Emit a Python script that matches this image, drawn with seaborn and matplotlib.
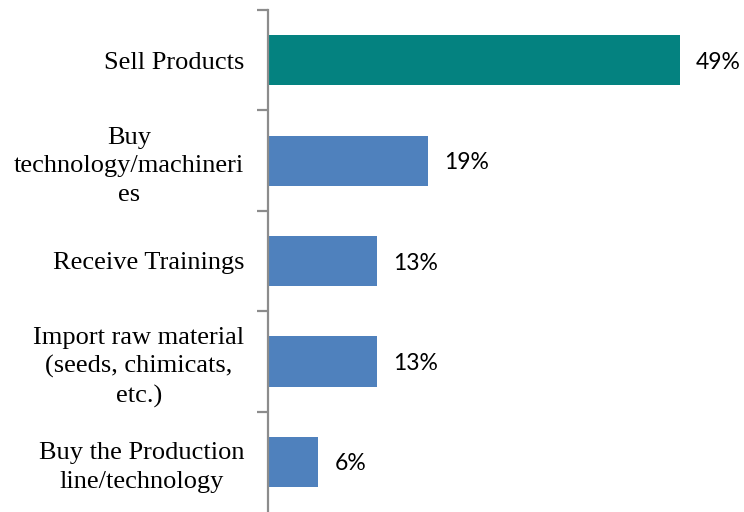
import matplotlib
matplotlib.use("Agg")
import matplotlib.pyplot as plt
import seaborn as sns
import pandas as pd

categories = [
    "Sell Products",
    "Buy\ntechnology/machineri\nes",
    "Receive Trainings",
    "Import raw material\n(seeds, chimicats,\netc.)",
    "Buy the Production\nline/technology",
]
values = [49, 19, 13, 13, 6]
value_labels = ["49%", "19%", "13%", "13%", "6%"]
bar_colors = ["#048280", "#4F81BD", "#4F81BD", "#4F81BD", "#4F81BD"]

df = pd.DataFrame({"purpose": categories, "share": values})

sns.set_theme(style="white")
fig = plt.figure(figsize=(7.44, 5.12), dpi=100)
ax = fig.add_axes([268 / 744, 0.0, 462 / 744, 502 / 512])

sns.barplot(data=df, y="purpose", x="share", hue="purpose",
            palette=bar_colors, orient="h", width=0.5, legend=False,
            saturation=1, edgecolor="none", ax=ax)

ax.set_xlim(0, 55)
ax.set_ylim(4.5, -0.5)
ax.set_xlabel("")
ax.set_ylabel("")
ax.set_xticks([])

# category boundary ticks on the value axis
ax.set_yticks([i - 0.5 for i in range(len(categories))], minor=False)
ax.set_yticklabels([])
ax.set_yticks(range(len(categories)), minor=True)
ax.set_yticklabels(categories, minor=True, fontfamily="Liberation Serif",
                   fontsize=19, color="#000000", ha="right",
                   multialignment="center", linespacing=1.38)
ax.tick_params(axis="y", which="minor", left=False, length=0, pad=17)
ax.tick_params(axis="y", which="major", left=True, length=8, width=1.6,
               color="#8C8C8C", direction="out")

for s in ["top", "right", "bottom"]:
    ax.spines[s].set_visible(False)
ax.spines["left"].set_color("#8C8C8C")
ax.spines["left"].set_linewidth(1.6)

for i, (v, lab) in enumerate(zip(values, value_labels)):
    ax.text(v + 1.95, i + 0.02, lab, va="center", ha="left",
            fontfamily="Lato", fontsize=16.5, color="#000000")

fig.savefig("out.png", dpi=100)
